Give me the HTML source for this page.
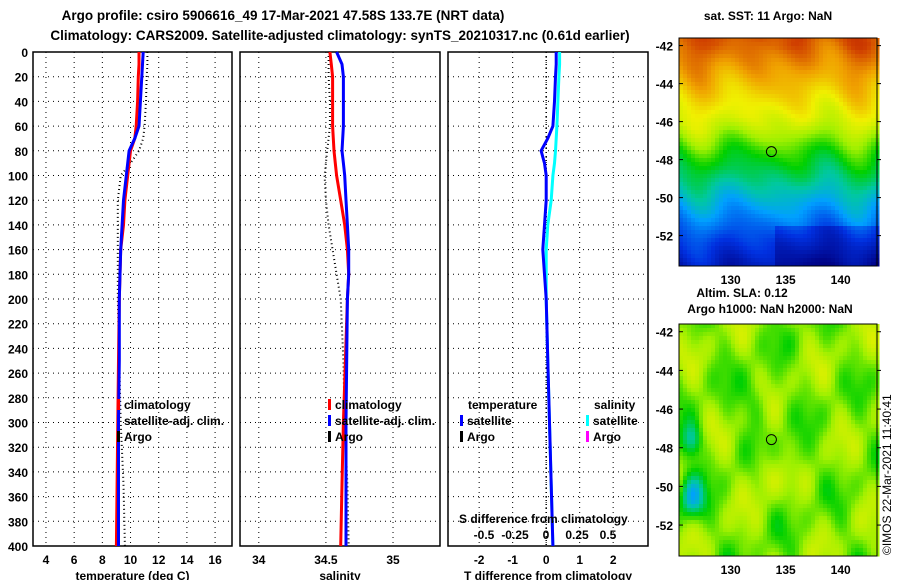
<!DOCTYPE html>
<html><head><meta charset="utf-8"><style>
body{margin:0;background:#fff;}
svg{display:block;font-family:"Liberation Sans",sans-serif;font-weight:bold;font-size:12px;}
</style></head><body>
<svg id="fig" width="900" height="580" viewBox="0 0 900 580" xmlns="http://www.w3.org/2000/svg">
<text x="283" y="20" text-anchor="middle" font-size="13.5">Argo profile: csiro 5906616_49 17-Mar-2021 47.58S 133.7E (NRT data)</text>
<text x="340" y="40" text-anchor="middle" font-size="13.5">Climatology: CARS2009. Satellite-adjusted climatology: synTS_20210317.nc (0.61d earlier)</text>
<g id="p1"></g>
<g id="p2"></g>
<g id="p3"></g>
<g id="m1"></g>
<g id="m2"></g>
<text x="768" y="20" text-anchor="middle" font-size="12">sat. SST: 11 Argo: NaN</text>
<text x="742" y="297" text-anchor="middle" font-size="12">Altim. SLA: 0.12</text>
<text x="770" y="313" text-anchor="middle" font-size="12">Argo h1000: NaN h2000: NaN</text>
<text transform="translate(891,555) rotate(-90)" font-size="12" font-weight="normal">©IMOS 22-Mar-2021 11:40:41</text>
</svg>
<script>
const depths=[0,10,20,40,60,70,80,90,100,120,140,160,180,200,250,300,350,400];
const tempClim=[10.6,10.6,10.55,10.5,10.4,10.3,10.0,9.9,9.8,9.6,9.5,9.3,9.25,9.2,9.15,9.1,9.05,9.0];
const tempSat=[10.9,10.85,10.8,10.7,10.6,10.3,9.9,9.8,9.7,9.5,9.4,9.3,9.25,9.2,9.2,9.15,9.15,9.15];
const tempArgo=[11.2,11.2,11.15,11.1,11.0,10.9,10.6,10.0,9.3,9.1,9.1,9.1,9.1,9.1,9.2,9.3,9.5,9.6];
const salClim=[34.53,34.54,34.55,34.55,34.55,34.555,34.56,34.57,34.58,34.61,34.64,34.66,34.67,34.66,34.645,34.63,34.62,34.61];
const salSat=[34.58,34.62,34.63,34.63,34.63,34.625,34.62,34.63,34.64,34.65,34.66,34.67,34.67,34.66,34.655,34.65,34.65,34.65];
const salArgo=[34.52,34.52,34.52,34.53,34.53,34.52,34.51,34.5,34.49,34.5,34.52,34.55,34.58,34.61,34.63,34.64,34.66,34.67];
const tDiff=[0.3,0.3,0.28,0.25,0.2,0.05,-0.15,-0.05,0.0,0.0,-0.05,-0.1,-0.05,0.0,0.05,0.1,0.15,0.2];
const sDiffT=[0.4,0.4,0.38,0.35,0.32,0.3,0.28,0.25,0.2,0.15,0.05,0.0,0.0,0.0,0.05,0.1,0.15,0.2];
const yTicks=[0,20,40,60,80,100,120,140,160,180,200,220,240,260,280,300,320,340,360,380,400];
const tTicks=[4,6,8,10,12,14,16];
const sTicks=[34,34.5,35];
const dTicks=[-2,-1,0,1,2];
const sdTicks=[-0.5,-0.25,0,0.25,0.5];
const sstLats=[-41.6,-44,-46,-47.5,-49,-50.5,-52,-53.6];
const sstLevels=[0.88,0.76,0.66,0.52,0.42,0.3,0.18,0.08];
const NS="http://www.w3.org/2000/svg";
function el(p,t,a){const e=document.createElementNS(NS,t);for(const k in a)e.setAttribute(k,a[k]);p.appendChild(e);return e;}
const Y0=52,Y1=546;
const yS=d=>Y0+(Y1-Y0)*d/400;
function panel(g,x0,x1,dmin,dmax,ticks,fmt,label,ylabels){
  const xs=v=>x0+(x1-x0)*(v-dmin)/(dmax-dmin);
  yTicks.forEach(d=>{if(d>0&&d<400){const l=el(g,'line',{x1:x0,x2:x1,y1:yS(d),y2:yS(d),stroke:'#000','stroke-dasharray':'1,4'});
  }
  if(ylabels){const t=el(g,'text',{x:x0-5,y:yS(d)+5,'text-anchor':'end'});t.textContent=d;
  }});
  ticks.forEach(v=>{const l=el(g,'line',{x1:xs(v),x2:xs(v),y1:Y0,y2:Y1,stroke:'#000','stroke-dasharray':'1,4'});
  
  const t=el(g,'text',{x:xs(v),y:564,'text-anchor':'middle'});t.textContent=fmt(v);
  });
  const r=el(g,'rect',{x:x0,y:Y0,width:x1-x0,height:Y1-Y0,fill:'none',stroke:'#000','stroke-width':1.5});
  
  const t=el(g,'text',{x:(x0+x1)/2,y:580,'text-anchor':'middle'});t.textContent=label;
  
  return xs;
}
function line(g,xs,vals,color,w,dash,name){
  const pts=vals.map((v,i)=>xs(v).toFixed(1)+','+yS(depths[i]).toFixed(1)).join(' ');
  const a={points:pts,fill:'none',stroke:color,'stroke-width':w};if(dash)a['stroke-dasharray']=dash;
  const p=el(g,'polyline',a);
}
function leg(g,x,y,color,txt,name){
  const r=el(g,'rect',{x:x,y:y-10,width:3,height:11,fill:color});
  const t=el(g,'text',{x:x+7,y:y});t.textContent=txt;
}
const g1=document.getElementById('p1'),g2=document.getElementById('p2'),g3=document.getElementById('p3');
const x1=panel(g1,33,232,3.08,17.2,tTicks,v=>v,'temperature (deg C)',true);
line(g1,x1,tempArgo,'#000',2,'1,3','argo-temp-line');
line(g1,x1,tempClim,'#f00',3,null,'clim-temp-line');
line(g1,x1,tempSat,'#00f',3,null,'sat-temp-line');
leg(g1,117,409,'#f00','climatology','legend-climatology');
leg(g1,117,425,'#00f','satellite-adj. clim.','legend-satellite');
leg(g1,117,441,'#000','Argo','legend-argo');
const x2=panel(g2,240,440,33.86,35.35,sTicks,v=>v,'salinity',false);
line(g2,x2,salArgo,'#000',2,'1,3','argo-sal-line');
line(g2,x2,salClim,'#f00',3,null,'clim-sal-line');
line(g2,x2,salSat,'#00f',3,null,'sat-sal-line');
leg(g2,328,409,'#f00','climatology','legend-climatology');
leg(g2,328,425,'#00f','satellite-adj. clim.','legend-satellite');
leg(g2,328,441,'#000','Argo','legend-argo');
const x3=panel(g3,448,648,-2.93,3.04,dTicks,v=>v,'T difference from climatology',false);
line(g3,x3,depths.map(()=>0),'#000',1.5,'1,3','argo-zero-line');
line(g3,x3,sDiffT,'#0ff',3,null,'sal-diff-line');
line(g3,x3,tDiff,'#00f',3,null,'temp-diff-line');
[['temperature',468,409],['salinity',594,409]].forEach(a=>{const t=el(g3,'text',{x:a[1],y:a[2]});t.textContent=a[0];});
leg(g3,460,425,'#00f','satellite','legend-temp-satellite');
leg(g3,460,441,'#000','Argo','legend-temp-argo');
leg(g3,586,425,'#0ff','satellite','legend-sal-satellite');
leg(g3,586,441,'#f0f','Argo','legend-sal-argo');
{const t=el(g3,'text',{x:459,y:523});t.textContent='S difference from climatology';
sdTicks.forEach(v=>{const tt=el(g3,'text',{x:546+v*124,y:539,'text-anchor':'middle'});tt.textContent=v;});}
const cmapPos=[0,0.15,0.3,0.4,0.5,0.6,0.7,0.8,0.9,1];
const cmapCol=[[0,0,128],[0,48,224],[0,160,255],[0,200,160],[0,208,0],[160,240,0],[240,240,0],[240,160,0],[208,64,0],[160,0,0]];
function cmap(v){if(!isFinite(v))v=0.5;v=Math.max(0,Math.min(1,v));for(let i=0;i<cmapPos.length-1;i++){if(v<=cmapPos[i+1]){const f=(v-cmapPos[i])/(cmapPos[i+1]-cmapPos[i]);const a=cmapCol[i],b=cmapCol[i+1];return 'rgb('+Math.round(a[0]+f*(b[0]-a[0]))+','+Math.round(a[1]+f*(b[1]-a[1]))+','+Math.round(a[2]+f*(b[2]-a[2]))+')';}}return 'rgb(160,0,0)';}
function sstBase(lat){for(let i=0;i<sstLats.length-1;i++){if(lat<=sstLats[i]&&lat>=sstLats[i+1]){const f=(sstLats[i]-lat)/(sstLats[i]-sstLats[i+1]);return sstLevels[i]+f*(sstLevels[i+1]-sstLevels[i]);}}return lat>sstLats[0]?sstLevels[0]:sstLevels[sstLevels.length-1];}
function gauss(lon,lat,cl,ct,s){const dx=lon-cl,dy=lat-ct;return Math.exp(-(dx*dx+dy*dy)/s);}
function map(id,y0,y1,field,cell){
  const g=document.getElementById(id),X0=679,X1=877;
  const lonS=l=>X0+(l-125.3)*11,latS=l=>y0+(y1-y0)*(-41.6-l)/12;
  for(let y=y0;y<y1;y+=cell)for(let x=X0;x<X1;x+=cell){
    const lon=125.3+(x-X0)/11,lat=-41.6-(y-y0)*12/(y1-y0);
    el(g,'rect',{x:x,y:y,width:cell+0.5,height:cell+0.5,fill:cmap(field(lon,lat))});}
  const r=el(g,'rect',{x:X0,y:y0,width:X1-X0,height:y1-y0,fill:'none',stroke:'#000'});
  [-42,-44,-46,-48,-50,-52].forEach(l=>{const t=el(g,'text',{x:673,y:latS(l)+5,'text-anchor':'end'});t.textContent=l;
   el(g,'line',{x1:X0,x2:X0+4,y1:latS(l),y2:latS(l),stroke:'#000'});el(g,'line',{x1:X1,x2:X1+4,y1:latS(l),y2:latS(l),stroke:'#000'});});
  [130,135,140].forEach(l=>{const t=el(g,'text',{x:lonS(l),y:y1+18,'text-anchor':'middle'});t.textContent=l;});
  const c=el(g,'circle',{cx:lonS(133.7),cy:latS(-47.58),r:5,fill:'none',stroke:'#000'});
}
map('m1',38,266,function(lon,lat){let v=sstBase(lat+0.4*Math.sin(lon*0.9))+0.02*Math.sin(lon*1.3)+0.015*Math.sin(lat*2+lon);
 if(lat<-51.3&&lon>134)v-=0.06;return v;},4);
map('m2',324,556,function(lon,lat){return 0.58+0.04*Math.sin(lon*1.1+lat*0.7)+0.035*Math.cos(lat*1.3-lon*0.5)+0.03*Math.sin(lon*2.1)*Math.cos(lat*1.7)
 -0.22*gauss(lon,lat,126.3,-50.5,1.2)-0.18*gauss(lon,lat,126.3,-47.5,0.8)+0.08*gauss(lon,lat,133,-49.3,1.5)-0.07*gauss(lon,lat,132,-45.5,1.5)-0.06*gauss(lon,lat,135.5,-48.5,1);},4);
</script>
</body></html>
